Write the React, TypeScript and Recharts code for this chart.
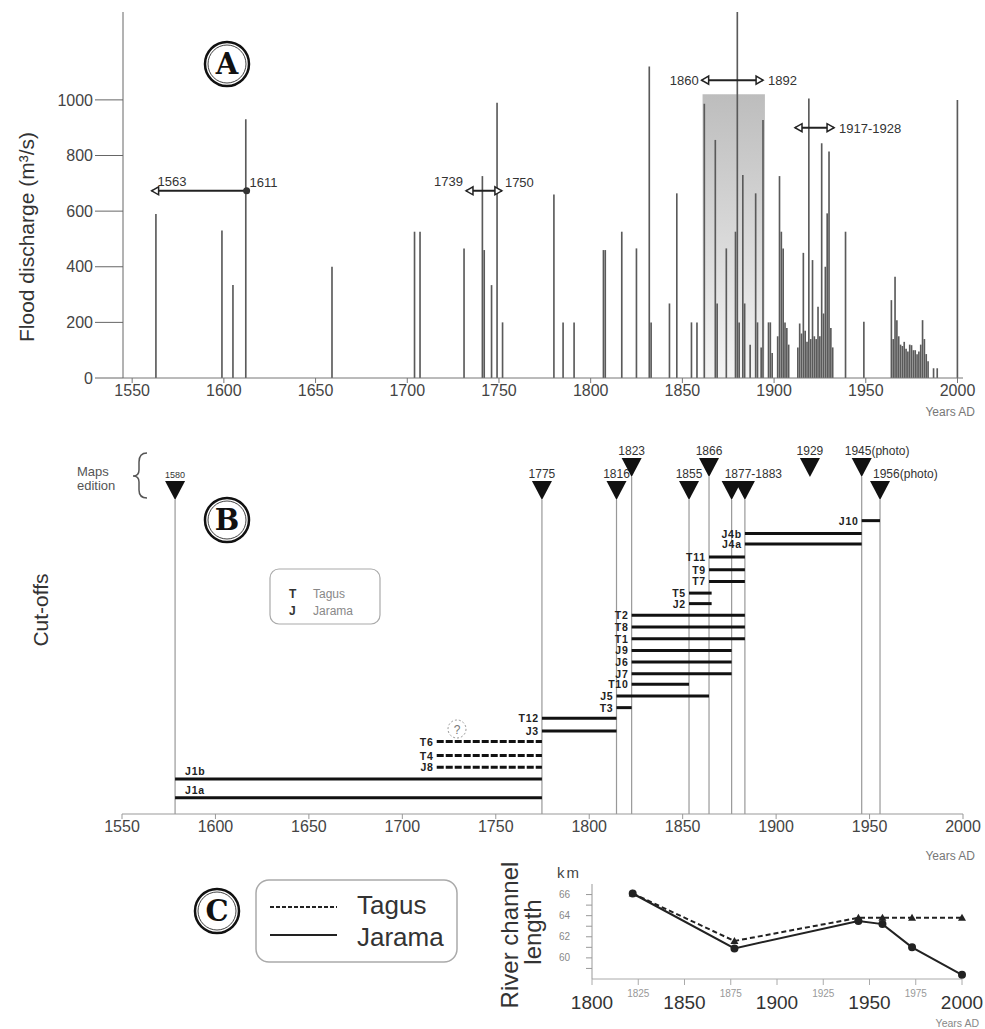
import React from "react";
import {
  Bar,
  ComposedChart,
  Line,
  LineChart,
  ReferenceArea,
  ReferenceLine,
  Scatter,
  XAxis,
  YAxis,
} from "recharts";

const FONT = "'Liberation Sans', Arial, sans-serif";
const NARROW = "'Liberation Sans Narrow', 'Liberation Sans', Arial, sans-serif";

// ---- panel A: flood discharge peaks (m3/s)
const floodYears = [
  1563, 1599, 1605, 1612, 1659, 1704, 1707, 1731, 1741, 1742, 1746, 1749, 1752,
  1780, 1785, 1791, 1807, 1808, 1817, 1825, 1832, 1833, 1843, 1847, 1855, 1858,
  1862, 1868, 1869, 1874, 1879, 1880, 1881, 1883, 1884, 1887, 1890, 1891, 1893,
  1894, 1897, 1898, 1899, 1902, 1903, 1904, 1905, 1906, 1907, 1908, 1913, 1914,
  1915, 1916, 1917, 1918, 1919, 1920, 1921, 1922, 1923, 1924, 1925, 1926, 1927,
  1928, 1929, 1930, 1931, 1932, 1939, 1949, 1964, 1965, 1966, 1967, 1968, 1969,
  1970, 1971, 1972, 1973, 1974, 1975, 1976, 1977, 1978, 1979, 1980, 1981, 1982,
  1983, 1984, 1987, 1989, 2000,
];
const floodPeaks = [
  590, 530, 334, 930, 400, 526, 526, 466, 726, 460, 334, 990, 200,
  660, 200, 200, 460, 460, 526, 466, 1120, 200, 268, 664, 200, 200,
  986, 856, 268, 466, 526, 1316, 200, 730, 268, 120, 664, 200, 110,
  928, 200, 200, 90, 150, 726, 526, 466, 200, 180, 120, 110, 196,
  160, 450, 170, 130, 1005, 140, 424, 150, 140, 256, 150, 844, 232,
  400, 592, 814, 180, 110, 526, 202, 280, 140, 364, 208, 150, 120,
  115, 130, 105, 95, 120, 118, 100, 100, 85, 95, 120, 208, 140,
  86, 60, 35, 35, 1000,
];
const floodTicksX = [1550, 1600, 1650, 1700, 1750, 1800, 1850, 1900, 1950, 2000];
const floodTicksY = [0, 200, 400, 600, 800, 1000];

// arrows over the flood record
const spanFrom = [1560.6, 1732, 1860.5, 1911.4];
const spanTo = [1612.4, 1751.6, 1894, 1932.7];
const spanLevel = [673, 673, 1071, 900];
const spanLeftText = ["1563", "1739", "1860", ""];
const spanRightText = ["1611", "1750", "1892", "1917-1928"];

// ---- panel B: map editions and cut-offs
const mapLabels = ["1580", "1775", "1816", "1823", "1855", "1866", "1877-1883", "", "1929", "1945(photo)", "1956(photo)"];
const mapYears = [1578.4, 1774.7, 1814.6, 1822.7, 1853.4, 1864.1, 1876.2, 1883.3, 1918.1, 1945.8, 1955.6];
const mapTier = [0, 0, 0, 1, 0, 1, 0, 0, 1, 1, 0];
const mapLineYears = [1578.4, 1774.7, 1814.6, 1822.7, 1853.4, 1864.1, 1876.2, 1883.3, 1945.8, 1955.6];
const mapLineTier = [0, 0, 0, 1, 0, 1, 0, 0, 1, 0];

const cutNames = ["J1a", "J1b", "J8", "T4", "T6", "J3", "T12", "T3", "J5", "T10", "J7", "J6", "J9", "T1", "T8", "T2", "J2", "T5", "T7", "T9", "T11", "J4a", "J4b", "J10"];
const cutRow = [1.4, 3, 4, 5, 6.2, 7.1, 8.2, 9.1, 10.1, 11.1, 12, 13, 14, 15, 16, 17, 18, 18.9, 19.9, 20.9, 22, 23.1, 24, 25.1];
const cutStart = [1578.4, 1578.4, 1718.4, 1718.4, 1718.4, 1774.7, 1774.7, 1814.6, 1814.6, 1822.7, 1822.7, 1822.7, 1822.7, 1822.7, 1822.7, 1822.7, 1853.4, 1853.4, 1864.1, 1864.1, 1864.1, 1883.3, 1883.3, 1945.8];
const cutEnd = [1774.7, 1774.7, 1774.7, 1774.7, 1774.7, 1814.6, 1814.6, 1822.7, 1864.1, 1853.4, 1876.2, 1876.2, 1876.2, 1883.3, 1883.3, 1883.3, 1865.5, 1865.5, 1883.3, 1883.3, 1883.3, 1945.8, 1945.8, 1955.6];
const uncertainCuts = ["J8", "T4", "T6"];

// ---- panel C: river channel length (km)
const lengthYears = [1822, 1877, 1944, 1957, 1973, 2000];
const tagusKm = [66.1, 61.6, 63.8, 63.8, 63.8, 63.8];
const jaramaKm = [66.1, 60.9, 63.5, 63.2, 61.0, 58.4];
const lengthTicksX = [1800, 1825, 1850, 1875, 1900, 1925, 1950, 1975, 2000];
const lengthTicksY = [59, 60, 61, 62, 63, 64, 65, 66];

const floodData = floodYears.map((year, i) => ({ year, q: floodPeaks[i] }));
const mapData = mapYears.map((x, i) => ({ x, y: mapTier[i] ? 28.83 : 26.86, label: mapLabels[i] }));
const lengthData = lengthYears.map((year, i) => ({ year, tagus: tagusKm[i], jarama: jaramaKm[i] }));

const spanMode = ["aboveIn", "aboveOut", "side", "side"];
const spanRightEnd = ["dot", "tri", "tri", "tri"];

function spanShape(i: number) {
  return (p: any) => {
    const { x1, y1, x2 } = p;
    const y = y1;
    const mode = spanMode[i];
    const lx = mode === "aboveIn" ? x1 + 6 : x1 - 3;
    const la = mode === "aboveIn" ? "start" : "end";
    const ly = mode === "side" ? y + 5 : y - 5;
    return (
      <g>
        <line x1={x1} y1={y} x2={x2} y2={y} stroke="#222" strokeWidth={2} />
        <polygon points={`${x1},${y} ${x1 + 7},${y - 4} ${x1 + 7},${y + 4}`} fill="#fff" stroke="#222" strokeWidth={1.5} />
        {spanRightEnd[i] === "dot" ? (
          <circle cx={x2} cy={y} r={3.5} fill="#333" />
        ) : (
          <polygon points={`${x2},${y} ${x2 - 7},${y - 4} ${x2 - 7},${y + 4}`} fill="#fff" stroke="#222" strokeWidth={1.5} />
        )}
        {spanLeftText[i] && (
          <text x={lx} y={ly} textAnchor={la} fontSize={13} fill="#333" fontFamily={FONT}>
            {spanLeftText[i]}
          </text>
        )}
        <text x={x2 + (mode === "side" ? 5 : 3)} y={mode === "side" ? y + 5 : y - 4} fontSize={13} fill="#333" fontFamily={FONT}>
          {spanRightText[i]}
        </text>
      </g>
    );
  };
}

function cutShape(name: string) {
  const dashed = uncertainCuts.includes(name);
  const above = name === "J1a" || name === "J1b";
  return (p: any) => (
    <g>
      <line x1={p.x1} y1={p.y1} x2={p.x2} y2={p.y2} stroke="#111" strokeWidth={3} strokeDasharray={dashed ? "7 2" : undefined} />
      <text
        x={above ? p.x1 + 10 : p.x1 - 3}
        y={above ? p.y1 - 4 : p.y1 + 4}
        textAnchor={above ? "start" : "end"}
        fontSize={10.5}
        fontWeight="bold"
        letterSpacing={0.8}
        fill="#222"
        fontFamily={FONT}
      >
        {name}
      </text>
    </g>
  );
}

const MapMark = (props: any) => {
  const { cx, cy, payload } = props;
  const label: string = payload.label;
  const start = label.includes("(") || label.includes("-");
  const dx = label.startsWith("1945") ? -17 : start ? -7 : 0;
  return (
    <g>
      <polygon points={`${cx - 10},${cy - 19} ${cx + 10},${cy - 19} ${cx},${cy}`} fill="#111" />
      {label && (
        <text
          x={cx + dx}
          y={cy - 22}
          textAnchor={start ? "start" : "middle"}
          fontSize={label === "1580" ? 9 : 12}
          fill="#333"
          fontFamily={FONT}
        >
          {label}
        </text>
      )}
    </g>
  );
};

const TagusDot = (props: any) => {
  const { cx, cy } = props;
  return <polygon points={`${cx},${cy - 4} ${cx - 4},${cy + 3} ${cx + 4},${cy + 3}`} fill="#222" />;
};

const LengthTick = (props: any) => {
  const { x, y, payload } = props;
  const major = payload.value % 50 === 0;
  return major ? (
    <text x={x} y={y + 22} textAnchor="middle" fontSize={19} fill="#333" fontFamily={FONT}>
      {payload.value}
    </text>
  ) : (
    <text x={x} y={y + 10} textAnchor="middle" fontSize={10} fill="#999" fontFamily={FONT}>
      {payload.value}
    </text>
  );
};

function Circled({ cx, cy, letter }: { cx: number; cy: number; letter: string }) {
  return (
    <g>
      <circle cx={cx} cy={cy} r={22} fill="#fff" stroke="#111" strokeWidth={2.5} />
      <circle cx={cx} cy={cy} r={19} fill="none" stroke="#111" strokeWidth={0.8} />
      <text x={cx} y={cy + 10} textAnchor="middle" fontSize={29} fontWeight="bold" fontFamily="'DejaVu Serif', 'Liberation Serif', serif" fill="#111">
        {letter}
      </text>
    </g>
  );
}

export default function App() {
  return (
    <div style={{ position: "absolute", left: 0, top: 0, width: 985, height: 1029, background: "#fff", fontFamily: FONT }}>
      {/* A */}
      <div style={{ position: "absolute", left: 0, top: 0 }}>
        <ComposedChart width={985} height={412} data={floodData} margin={{ top: 12, right: 22, left: 0, bottom: 0 }}>
          <defs>
            <linearGradient id="shadeA" x1="0" y1="0" x2="0" y2="1">
              <stop offset="0%" stopColor="#bdbdbd" />
              <stop offset="100%" stopColor="#f4f4f4" />
            </linearGradient>
          </defs>
          <XAxis
            dataKey="year"
            type="number"
            domain={[1545, 2003]}
            ticks={floodTicksX}
            allowDataOverflow
            tickSize={5}
            stroke="#777"
            height={34}
            tick={{ fontSize: 16, fill: "#444", fontFamily: FONT }}
          />
          <YAxis
            type="number"
            domain={[0, 1316]}
            ticks={floodTicksY}
            allowDataOverflow
            width={123}
            tickSize={28}
            stroke="#666"
            tick={{ fontSize: 16, fill: "#444", fontFamily: FONT }}
          />
          <ReferenceArea x1={1861} x2={1895} y1={0} y2={1020} fill="url(#shadeA)" fillOpacity={1} stroke="none" />
          <Bar dataKey="q" fill="#5a5a5a" barSize={2} isAnimationActive={false} />
          {spanFrom.map((from, i) => (
            <ReferenceLine
              key={`span-${i}`}
              segment={[
                { x: from, y: spanLevel[i] },
                { x: spanTo[i], y: spanLevel[i] },
              ]}
              shape={spanShape(i)}
            />
          ))}
        </ComposedChart>
      </div>

      {/* B */}
      <div style={{ position: "absolute", left: 0, top: 420 }}>
        <ComposedChart width={985} height={424} margin={{ top: 20, right: 22, left: 122, bottom: 0 }}>
          <XAxis
            dataKey="x"
            type="number"
            domain={[1550, 2000]}
            ticks={floodTicksX}
            tickSize={5}
            stroke="#999"
            height={30}
            tick={{ fontSize: 16, fill: "#444", fontFamily: FONT }}
          />
          <YAxis dataKey="y" type="number" domain={[0, 32]} hide width={0} />
          {mapLineYears.map((yr, i) => (
            <ReferenceLine
              key={`ml-${i}`}
              segment={[
                { x: yr, y: mapLineTier[i] ? 28.83 : 26.86 },
                { x: yr, y: 0 },
              ]}
              stroke="#999"
              strokeWidth={1.2}
            />
          ))}
          {cutNames.map((name, i) => (
            <ReferenceLine
              key={`cut-${name}`}
              segment={[
                { x: cutStart[i], y: cutRow[i] },
                { x: cutEnd[i], y: cutRow[i] },
              ]}
              shape={cutShape(name)}
            />
          ))}
          <Scatter data={mapData} dataKey="y" shape={MapMark} isAnimationActive={false} />
        </ComposedChart>
      </div>

      {/* C */}
      <div style={{ position: "absolute", left: 0, top: 840 }}>
        <LineChart width={985} height={189} data={lengthData} margin={{ top: 44, right: 23, left: 552, bottom: 0 }}>
          <XAxis
            dataKey="year"
            type="number"
            domain={[1800, 2000]}
            ticks={lengthTicksX}
            tickSize={6}
            stroke="#aaa"
            height={50}
            tick={<LengthTick />}
          />
          <YAxis
            type="number"
            domain={[58, 67]}
            ticks={lengthTicksY}
            width={40}
            tickSize={6}
            tickMargin={16}
            stroke="#999"
            tickFormatter={(v: number) => (v % 2 === 0 ? String(v) : "")}
            tick={{ fontSize: 10, fill: "#888", fontFamily: FONT }}
          />
          <Line dataKey="tagus" stroke="#222" strokeWidth={2} strokeDasharray="5 3" dot={<TagusDot />} isAnimationActive={false} />
          <Line dataKey="jarama" stroke="#222" strokeWidth={2} dot={{ r: 3, fill: "#222", stroke: "#222" }} isAnimationActive={false} />
        </LineChart>
      </div>

      {/* decorations */}
      <svg width={985} height={1029} style={{ position: "absolute", left: 0, top: 0, pointerEvents: "none" }} fontFamily={FONT}>
        <Circled cx={227} cy={64} letter="A" />
        <text transform="translate(34,237) rotate(-90)" textAnchor="middle" fontSize={21} fill="#333">
          Flood discharge (m³/s)
        </text>
        <text x={975} y={416} textAnchor="end" fontSize={12} fill="#777">Years AD</text>

        <text x={77} y={476} fontSize={13} fill="#555">Maps</text>
        <text x={77} y={490} fontSize={13} fill="#555">edition</text>
        <path d="M147,453 Q139,453 139,462 L139,470 Q139,476 133,476 Q139,476 139,482 L139,490 Q139,498 147,498" fill="none" stroke="#555" strokeWidth={1.5} />
        <Circled cx={227} cy={520} letter="B" />
        <rect x={270} y={569} width={110} height={55} rx={9} fill="#fff" stroke="#aaa" strokeWidth={1.2} />
        <text x={289} y={598} fontSize={12} fill="#333" fontWeight="bold">T</text>
        <text x={313} y={598} fontSize={12} fill="#888">Tagus</text>
        <text x={289} y={615} fontSize={12} fill="#333" fontWeight="bold">J</text>
        <text x={313} y={615} fontSize={12} fill="#888">Jarama</text>
        <circle cx={457} cy={729} r={9} fill="none" stroke="#999" strokeDasharray="2 2" />
        <text x={457} y={734} textAnchor="middle" fontSize={12} fill="#777">?</text>
        <text transform="translate(48,610) rotate(-90)" textAnchor="middle" fontSize={21} fill="#333">
          Cut-offs
        </text>
        <text x={975} y={860} textAnchor="end" fontSize={12} fill="#777">Years AD</text>

        <Circled cx={217} cy={911} letter="C" />
        <rect x={256} y={880} width={201} height={82} rx={13} fill="none" stroke="#aaa" strokeWidth={1.5} />
        <line x1={270} y1={907} x2={337} y2={907} stroke="#222" strokeWidth={2} strokeDasharray="4 2" />
        <text x={357} y={914} fontSize={26} fill="#333" fontFamily={NARROW}>Tagus</text>
        <line x1={270} y1={935} x2={337} y2={935} stroke="#222" strokeWidth={2} />
        <text x={357} y={946} fontSize={26} fill="#333" fontFamily={NARROW}>Jarama</text>
        <text transform="translate(518,935) rotate(-90)" textAnchor="middle" fontSize={24} fill="#333">
          River channel
        </text>
        <text transform="translate(541,932) rotate(-90)" textAnchor="middle" fontSize={24} fill="#333">
          length
        </text>
        <text x={557} y={878} fontSize={15} letterSpacing={2} fill="#444">km</text>
        <text x={979} y={1027} textAnchor="end" fontSize={10.5} fill="#888">Years AD</text>
      </svg>
    </div>
  );
}
